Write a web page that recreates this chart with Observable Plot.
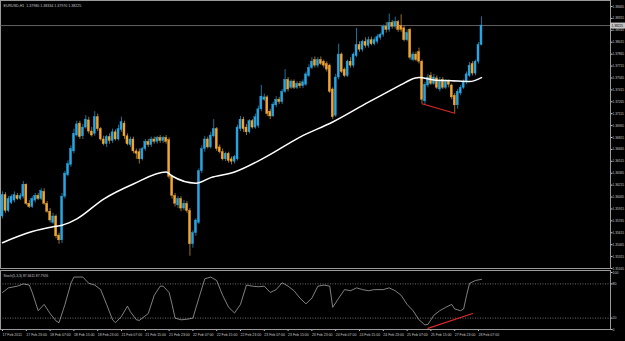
<!DOCTYPE html>
<html><head><meta charset="utf-8">
<script src="https://cdn.jsdelivr.net/npm/d3@7"></script>
<script src="https://cdn.jsdelivr.net/npm/@observablehq/plot@0.6"></script>
<style>
html,body{margin:0;padding:0;background:#000;overflow:hidden;}
#chart svg{display:block;}
#stochbox g[aria-label^="x-axis"] text{text-anchor:start;}
</style></head><body><div id="chart"><div id="mainbox"></div><div id="stochbox"></div></div>
<script>
const symbol = "EURUSD,H1";
const opens = [
1.3582,1.3609,1.3589,1.3599,1.3602,1.3608,1.3604,1.3607,1.3622,1.3598,
1.3594,1.3602,1.3608,1.3604,1.3613,1.3598,1.3588,1.3574,1.3582,1.3558,
1.3552,1.3607,1.3634,1.3647,1.3664,1.3684,1.3699,1.3683,1.3694,1.3703,
1.3689,1.3686,1.3707,1.3692,1.3679,1.3673,1.3682,1.3677,1.3688,1.3679,
1.3691,1.3699,1.3683,1.3672,1.3679,1.3664,1.3663,1.3654,1.3667,1.3676,
1.3672,1.3679,1.3676,1.3681,1.3677,1.3681,1.3678,1.3632,1.3608,1.3596,
1.3604,1.3592,1.3598,1.3589,1.3547,1.3561,1.3574,1.3639,1.3667,1.3679,
1.3669,1.3683,1.3692,1.3669,1.3663,1.3654,1.3661,1.3654,1.3651,1.3654,
1.3692,1.3704,1.3694,1.3688,1.3702,1.3694,1.3696,1.3717,1.3729,1.3732,
1.3714,1.3708,1.3722,1.3729,1.3726,1.3739,1.3754,1.3744,1.3752,1.3744,
1.3749,1.3746,1.3748,1.3759,1.3769,1.3779,1.3772,1.3779,1.3777,1.3774,
1.3772,1.3742,1.3709,1.3757,1.3786,1.3767,1.3759,1.3777,1.3772,1.3784,
1.3798,1.3792,1.3802,1.3797,1.3804,1.3799,1.3802,1.3807,1.3811,1.3821,
1.3817,1.3826,1.3821,1.3827,1.3822,1.3819,1.3804,1.3817,1.3779,1.3786,
1.3789,1.3777,1.3727,1.3747,1.3759,1.3749,1.3756,1.3742,1.3754,1.3744,
1.3752,1.3747,1.3734,1.3722,1.3737,1.3744,1.3751,1.3759,1.3774,1.3762,
1.3777,1.3798];
const highs = [
1.3613,1.3612,1.3607,1.3609,1.3613,1.3611,1.3611,1.3626,1.3623,1.3602,
1.3607,1.3611,1.3611,1.3617,1.3617,1.3601,1.3592,1.3586,1.3584,1.3561,
1.3611,1.3639,1.3652,1.3671,1.3692,1.3702,1.3702,1.3698,1.3709,1.3707,
1.3694,1.3714,1.3711,1.3694,1.3683,1.3684,1.3686,1.3692,1.3691,1.3697,
1.3707,1.3702,1.3686,1.3682,1.3682,1.3667,1.3667,1.3669,1.3679,1.3679,
1.3682,1.3682,1.3683,1.3684,1.3683,1.3684,1.3681,1.3634,1.3611,1.3607,
1.3607,1.3602,1.3601,1.3592,1.3564,1.3579,1.3642,1.3671,1.3683,1.3682,
1.3688,1.3704,1.3694,1.3672,1.3667,1.3663,1.3663,1.3657,1.3659,1.3697,
1.3708,1.3707,1.3698,1.3704,1.3704,1.3711,1.3721,1.3747,1.3736,1.3734,
1.3717,1.3726,1.3733,1.3732,1.3742,1.3767,1.3757,1.3754,1.3754,1.3752,
1.3752,1.3754,1.3764,1.3773,1.3782,1.3783,1.3782,1.3783,1.3779,1.3777,
1.3774,1.3744,1.3761,1.3799,1.3788,1.3769,1.3779,1.3782,1.3788,1.3819,
1.3802,1.3804,1.3807,1.3808,1.3808,1.3807,1.3811,1.3813,1.3823,1.3826,
1.3837,1.3829,1.3833,1.3829,1.3836,1.3822,1.3817,1.3819,1.3789,1.3789,
1.3794,1.3779,1.3751,1.3761,1.3763,1.3761,1.3759,1.3757,1.3757,1.3754,
1.3754,1.3749,1.3737,1.3742,1.3747,1.3754,1.3764,1.3776,1.3777,1.3779,
1.3801,1.38334];
const lows = [
1.3579,1.3586,1.3587,1.3597,1.3599,1.3602,1.3602,1.3604,1.3596,1.3592,
1.3592,1.3599,1.3602,1.3602,1.3596,1.3586,1.3574,1.3572,1.3554,1.3547,
1.3548,1.3604,1.3632,1.3644,1.3661,1.3682,1.3679,1.3679,1.3692,1.3686,
1.3682,1.3683,1.3689,1.3677,1.3671,1.3669,1.3673,1.3674,1.3677,1.3677,
1.3688,1.3679,1.3671,1.3669,1.3661,1.3654,1.3648,1.3652,1.3664,1.3669,
1.3669,1.3673,1.3673,1.3674,1.3674,1.3673,1.3629,1.3604,1.3594,1.3592,
1.3588,1.3589,1.3586,1.3532,1.3542,1.3557,1.3572,1.3636,1.3663,1.3667,
1.3667,1.3681,1.3664,1.3661,1.3652,1.3651,1.3649,1.3647,1.3648,1.3652,
1.3689,1.3688,1.3684,1.3686,1.3692,1.3692,1.3693,1.3714,1.3727,1.3708,
1.3704,1.3707,1.3719,1.3723,1.3723,1.3737,1.3739,1.3742,1.3742,1.3742,
1.3743,1.3743,1.3746,1.3757,1.3767,1.3769,1.3769,1.3772,1.3769,1.3764,
1.3737,1.3704,1.3707,1.3754,1.3762,1.3757,1.3757,1.3769,1.3769,1.3782,
1.3789,1.3789,1.3794,1.3794,1.3797,1.3797,1.3799,1.3804,1.3808,1.3813,
1.3814,1.3818,1.3818,1.3814,1.3814,1.3802,1.3802,1.3779,1.3777,1.3777,
1.3774,1.3724,1.3722,1.3744,1.3747,1.3747,1.3742,1.3739,1.3742,1.3742,
1.3744,1.3729,1.3712,1.3717,1.3734,1.3742,1.3748,1.3757,1.3759,1.3759,
1.3774,1.3797];
const closes = [
1.3609,1.3589,1.3604,1.3607,1.3609,1.3604,1.3608,1.3622,1.3598,1.3594,
1.3604,1.3608,1.3604,1.3614,1.3598,1.3588,1.3577,1.3582,1.3557,1.3552,
1.3607,1.3636,1.3648,1.3667,1.3686,1.3698,1.3682,1.3694,1.3704,1.3689,
1.3684,1.3707,1.3692,1.3679,1.3673,1.3682,1.3677,1.3688,1.3679,1.3692,
1.3701,1.3683,1.3673,1.3679,1.3664,1.3661,1.3654,1.3667,1.3676,1.3672,
1.3679,1.3676,1.3681,1.3677,1.3681,1.3676,1.3632,1.3608,1.3598,1.3604,
1.3592,1.3598,1.3589,1.3547,1.3561,1.3577,1.3639,1.3667,1.3679,1.3669,
1.3684,1.3692,1.3667,1.3663,1.3654,1.3661,1.3652,1.3651,1.3657,1.3694,
1.3704,1.3692,1.3688,1.3702,1.3694,1.3707,1.3717,1.3733,1.3732,1.3711,
1.3708,1.3723,1.3729,1.3726,1.3739,1.3754,1.3742,1.3752,1.3744,1.3749,
1.3746,1.3751,1.3761,1.3769,1.3777,1.3772,1.3779,1.3774,1.3772,1.3767,
1.3739,1.3707,1.3757,1.3786,1.3764,1.3759,1.3777,1.3772,1.3786,1.3798,
1.3792,1.3802,1.3797,1.3804,1.3799,1.3804,1.3808,1.3811,1.3821,1.3817,
1.3826,1.3821,1.3827,1.3817,1.3817,1.3804,1.3813,1.3782,1.3786,1.3779,
1.3777,1.3729,1.3748,1.3757,1.3749,1.3757,1.3744,1.3752,1.3744,1.3752,
1.3748,1.3732,1.3722,1.3739,1.3744,1.3752,1.3761,1.3772,1.3762,1.3777,
1.3798,1.38225];

// moving average
const maBars   = [0,10,17,20,25,34,44,55,57,65,70,78,89,100,111,123,129,134,137,140,145,151,157,161];
const maValues = [1.3549,1.3563,1.3569,1.3571,1.3579,1.3604,1.3623,1.3638,1.3633,1.3624,1.3631,1.3638,1.3658,1.3682,1.3701,1.3726,1.3738,1.3748,1.3754,1.3757,1.3754,1.3753,1.3752,1.3757];

// stochastic
const stochName = "Stoch(5,3,3) 87.6611 87.7926";
const stochBars = [0,2,5,7,9,10,12,14,16,18,19,21,23,24,27,29,31,33,35,37,38,40,42,43,45,46,49,51,53,54,56,57,58,60,62,64,66,68,70,72,74,76,78,80,82,84,86,88,90,92,94,96,98,100,102,104,106,108,110,111,113,115,117,119,121,123,125,128,130,132,134,136,138,140,142,143,145,147,149,151,152,154,155,156,157,159,161];
const stochValues = [65,73,76,80,78,65,33,44,28,15,12,44,81,92,92,81,78,70,44,17,12,23,41,31,17,16,28,60,76,76,65,44,20,17,18,20,55,89,92,86,60,39,29,44,78,76,75,76,65,70,82,76,68,55,45,55,76,78,76,39,55,70,68,73,70,68,70,70,73,68,60,44,33,17,8,9,25,33,39,44,36,33,36,60,81,86,88];
const stochLevels = [80, 20];
const stochTicks = [100, 80, 20, 0];

// divergence lines
const divMainBars = [141, 152];
const divMainValues = [1.3724, 1.3712];
const divStochBars = [143, 158];
const divStochValues = [2, 28];

// axis labels
const priceTicks = [1.38465,1.38315,1.38165,1.38015,1.37865,1.37715,1.37565,1.37415,1.37265,1.37115,1.36965,1.36815,1.36665,1.36515,1.36365,1.36215,1.36065,1.35915,1.35765,1.35615,1.35465,1.35315,1.35165];
const labelBars = [0,8,16,24,32,40,48,56,64,72,80,88,96,104,112,120,128,136,144,152,160];
const xLabels = ["17 Feb 2011","17 Feb 23:00","18 Feb 07:00","18 Feb 15:00","18 Feb 23:00","21 Feb 07:00","21 Feb 15:00","21 Feb 23:00","22 Feb 07:00","22 Feb 15:00","22 Feb 23:00","23 Feb 07:00","23 Feb 15:00","23 Feb 23:00","24 Feb 07:00","24 Feb 15:00","24 Feb 23:00","25 Feb 07:00","25 Feb 15:00","27 Feb 23:00","28 Feb 07:00"];

// ---- build ----
const bars = opens.map((o, i) => ({i, open: o, high: highs[i], low: lows[i], close: closes[i]}));
const upBars = bars.filter(d => d.close >= d.open);
const dnBars = bars.filter(d => d.close < d.open);
const last = bars[bars.length - 1];
const ma = maBars.map((b, k) => ({bar: b, v: maValues[k]}));
const stoch = stochBars.map((b, k) => ({bar: b, v: stochValues[k]}));
const divMain = divMainBars.map((b, k) => ({bar: b, v: divMainValues[k]}));
const divStoch = divStochBars.map((b, k) => ({bar: b, v: divStochValues[k]}));
const fmt = v => v.toFixed(5);
const header = `${symbol}  ${fmt(last.open)} ${fmt(last.high)} ${fmt(last.low)} ${fmt(last.close)}`;

const xDomain = [-0.672, 204.37];
const UP = "#29a6e2", DN = "#f2a632", UPW = "#1f7fae", DNW = "#a97a30";
const FONT = "Liberation Sans, DejaVu Sans, sans-serif";

const main = Plot.plot({
  width: 625, height: 268,
  marginLeft: 0, marginRight: 15, marginTop: 0, marginBottom: 0,
  style: {background: "#000", color: "#c8c8c8", fontFamily: FONT, fontSize: "3.2px", overflow: "visible"},
  x: {domain: xDomain, axis: null},
  y: {domain: [1.35165, 1.385406], axis: "right", ticks: priceTicks, tickFormat: d => d.toFixed(5), tickSize: 1.5, tickPadding: 0.5, label: null},
  marks: [
    Plot.frame({stroke: "#9a9a9a"}),
    Plot.ruleY([last.close], {stroke: "#7a7a7a", strokeWidth: 0.8}),
    Plot.ruleX(upBars, {x: "i", y1: "low", y2: "high", stroke: UPW, strokeWidth: 0.9}),
    Plot.ruleX(dnBars, {x: "i", y1: "low", y2: "high", stroke: DNW, strokeWidth: 0.9}),
    Plot.rect(upBars, {x1: d => d.i - 0.34, x2: d => d.i + 0.34, y1: "open", y2: "close", fill: UP, stroke: UP, strokeWidth: 0.4}),
    Plot.rect(dnBars, {x1: d => d.i - 0.34, x2: d => d.i + 0.34, y1: "open", y2: "close", fill: DN, stroke: DN, strokeWidth: 0.4}),
    Plot.line(ma, {x: "bar", y: "v", stroke: "#ffffff", strokeWidth: 1.5, curve: "monotone-x"}),
    Plot.line(divMain, {x: "bar", y: "v", stroke: "#e02828", strokeWidth: 1.2}),
    Plot.ruleY([last.close], {x1: xDomain[1], x2: xDomain[1] + 5.04, stroke: "#c4c4c4", strokeWidth: 6}),
    Plot.text([last.close], {x: xDomain[1], y: d => d, dx: 1, text: d => fmt(d), textAnchor: "start", fill: "#000", fontSize: 3.2}),
    Plot.text([header], {frameAnchor: "top-left", dx: 3, dy: 4, textAnchor: "start", fill: "#c8c8c8", fontSize: 3.6})
  ]
});

const sub = Plot.plot({
  width: 625, height: 73,
  marginLeft: 0, marginRight: 15, marginTop: 2, marginBottom: 12,
  style: {background: "#000", color: "#c8c8c8", fontFamily: FONT, fontSize: "3.5px", overflow: "visible"},
  x: {domain: xDomain, axis: "bottom", ticks: labelBars, tickFormat: d => xLabels[labelBars.indexOf(d)], tickSize: 2, tickPadding: 2, label: null},
  y: {domain: [0, 103.5], axis: "right", ticks: stochTicks, tickFormat: d => String(d), tickSize: 1.5, tickPadding: 0.5, label: null},
  marks: [
    Plot.frame({stroke: "#9a9a9a"}),
    Plot.ruleY(stochLevels, {stroke: "#8a8a8a", strokeWidth: 0.8, strokeDasharray: "1,1.5"}),
    Plot.line(stoch, {x: "bar", y: "v", stroke: "#b4b8b4", strokeWidth: 0.7}),
    Plot.line(divStoch, {x: "bar", y: "v", stroke: "#e02828", strokeWidth: 1.2}),
    Plot.text([stochName], {frameAnchor: "top-left", dx: 3, dy: 4, textAnchor: "start", fill: "#c8c8c8", fontSize: 3.4})
  ]
});

document.getElementById("mainbox").appendChild(main);
document.getElementById("stochbox").appendChild(sub);
</script></body></html>
